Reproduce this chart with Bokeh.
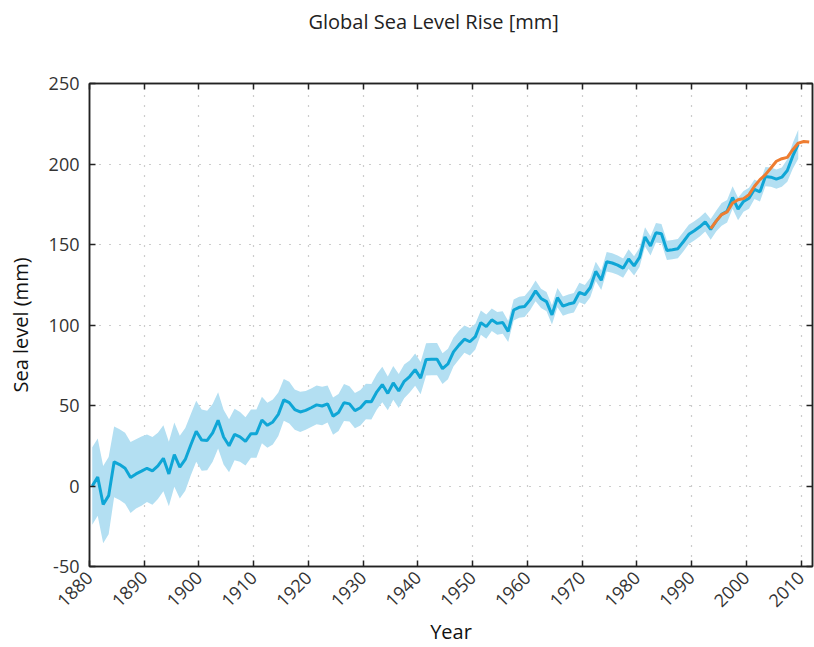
import math
from bokeh.plotting import figure
from bokeh.models import (LinearAxis, Range1d, FixedTicker, CustomJSTickFormatter,
                          ColumnDataSource)
from bokeh.embed import file_html
from bokeh.resources import INLINE

# ---------------- data ----------------
years = list(range(1880, 2010))
sea_level = [
    0.0, 5.5, -11.5, -6.0, 15.0, 13.3, 11.0, 5.3, 7.5, 9.2,            # 1880s
    11.0, 9.4, 12.5, 17.2, 7.5, 19.5, 11.7, 16.5, 25.5, 34.0,          # 1890s
    28.5, 28.3, 33.0, 40.8, 30.4, 25.0, 32.0, 30.5, 27.7, 32.5,        # 1900s
    32.5, 41.0, 37.7, 39.8, 44.5, 53.5, 51.8, 47.5, 46.0, 47.0,        # 1910s
    48.6, 50.4, 49.7, 51.0, 43.4, 45.6, 51.8, 51.0, 46.8, 48.6,        # 1920s
    52.5, 52.3, 58.5, 63.0, 57.5, 64.0, 59.0, 65.0, 68.0, 72.3,        # 1930s
    67.0, 78.6, 78.8, 78.8, 72.9, 75.8, 83.3, 87.5, 91.2, 89.6,        # 1940s
    92.8, 101.5, 99.0, 103.2, 101.0, 101.5, 96.0, 109.3, 111.0, 111.5, # 1950s
    115.6, 121.2, 116.5, 114.5, 106.3, 117.0, 111.7, 113.0, 113.8, 120.2,  # 1960s
    118.8, 123.3, 133.3, 127.8, 139.3, 138.5, 137.2, 135.3, 141.0, 136.7,  # 1970s
    142.0, 154.7, 149.1, 157.3, 156.7, 146.3, 146.8, 147.4, 151.7, 156.3,  # 1980s
    158.5, 161.0, 164.0, 159.4, 164.5, 168.7, 170.7, 179.2, 172.0, 176.8,  # 1990s
    178.7, 184.3, 182.7, 192.2, 191.8, 190.6, 191.8, 196.0, 205.0, 212.3,  # 2000s
]
uncertainty = [
    24, 24, 24, 24, 22, 22, 22, 22, 21.5, 21.5,
    21, 21, 20.5, 20.5, 20, 20, 19.5, 19.5, 19, 19,
    19, 18.5, 18, 17.5, 17, 16.5, 16, 15.5, 15, 15,
    15, 14.5, 14, 14, 13.5, 13, 13, 12.5, 12.5, 12,
    12, 12, 12, 11.5, 11.5, 11.5, 11.5, 11, 11, 11,
    11, 11, 11, 11, 10.5, 10.5, 10.5, 10.5, 10, 10,
    10, 10, 10, 10, 9.5, 9.5, 9, 9, 8.5, 8.5,
    8, 7.5, 7.5, 7, 7, 7, 6.5, 6.5, 6.5, 6.5,
    6.5, 6.5, 6, 6, 6, 6, 6, 6, 6, 6,
    6, 6, 6, 6, 6, 6, 6, 6, 6, 6,
    6, 6, 6, 6, 6, 6, 6, 6, 6, 6,
    6, 6, 6, 6.5, 6.5, 7, 7, 7, 7, 6.5,
    6.5, 6, 6, 6, 6, 6, 6, 7, 8, 9,
]
sat_years = list(range(1993, 2012))
sat_level = [159.8, 164.5, 168.6, 170.2, 175.8, 177.8, 178.5, 181.0, 186.2, 190.3,
             193.4, 197.5, 201.7, 203.3, 204.1, 208.9, 213.0, 214.0, 213.6]

x_ticks = [1880, 1890, 1900, 1910, 1920, 1930, 1940, 1950, 1960, 1970, 1980, 1990, 2000, 2010]
y_ticks = [-50, 0, 50, 100, 150, 200, 250]

title_text = "Global Sea Level Rise [mm]"
x_label = "Year"
y_label = "Sea level (mm)"

# ---------------- colours / fonts / layout ----------------
BAND = "#b3dff2"
BLUE = "#0fa6d6"
ORANGE = "#ee7d31"
FONT = "Open Sans"

W, H = 814, 647
LEFT, RIGHT, TOP, BOTTOM = 89, 812, 82, 567   # frame edges in page pixels
X0, X1 = 1880, 2012.1
Y0, Y1 = -50, 250

main = ColumnDataSource(dict(
    x=[y + 0.5 for y in years],
    y=sea_level,
    lo=[v - e for v, e in zip(sea_level, uncertainty)],
    hi=[v + e for v, e in zip(sea_level, uncertainty)],
))
sat = ColumnDataSource(dict(x=[y + 0.5 for y in sat_years], y=sat_level))

p = figure(width=W, height=H, output_backend="svg", toolbar_location=None,
           x_range=Range1d(X0, X1), y_range=Range1d(Y0, Y1),
           min_border_left=LEFT, min_border_right=W - RIGHT, min_border_top=TOP,
           min_border_bottom=H - BOTTOM, background_fill_color="white",
           border_fill_color="white")

p.title.text = title_text
p.title.align = "left"
p.title.offset = 219
p.title.vertical_align = "bottom"
p.title.standoff = 10
p.title.text_font = FONT
p.title.text_font_size = "20px"
p.title.text_font_style = "normal"
p.title.text_color = "#222222"

p.outline_line_color = "#222222"
p.outline_line_width = 1.5

xt = FixedTicker(ticks=x_ticks, minor_ticks=[])
yt = FixedTicker(ticks=y_ticks, minor_ticks=[])

for ax in p.xaxis:
    ax.ticker = xt
for ax in p.yaxis:
    ax.ticker = yt
    ax.major_label_overrides = {t: str(t) for t in y_ticks}

for ax in list(p.xaxis) + list(p.yaxis):
    ax.major_tick_in = 6
    ax.major_tick_out = 0
    ax.minor_tick_in = 0
    ax.minor_tick_out = 0
    ax.axis_line_color = "#222222"
    ax.axis_line_width = 1.5
    ax.major_tick_line_color = "#222222"
    ax.major_tick_line_width = 1.5
    ax.major_label_text_font = FONT
    ax.major_label_text_font_size = "18px"
    ax.major_label_text_color = "#333333"
    ax.axis_label_text_font = FONT
    ax.axis_label_text_font_size = "20px"
    ax.axis_label_text_font_style = "normal"
    ax.axis_label_text_color = "#111111"

p.xaxis.major_label_orientation = math.pi / 4
p.xaxis.major_label_standoff = 8
p.xaxis.axis_label = x_label
p.xaxis.axis_label_standoff = 2
p.yaxis.major_label_standoff = 10
p.yaxis.axis_label = y_label
p.yaxis.axis_label_standoff = 12

blank = CustomJSTickFormatter(code="return ''")
top = LinearAxis(ticker=xt, formatter=blank, major_tick_in=6, major_tick_out=0,
                 minor_tick_in=0, minor_tick_out=0, major_label_standoff=0,
                 axis_line_color="#222222", axis_line_width=1.5,
                 major_tick_line_color="#222222", major_tick_line_width=1.5)
# an undrawn axis whose outward tick length keeps the title away from the frame
spacer = LinearAxis(ticker=xt, formatter=blank, major_tick_in=0, major_tick_out=44,
                    minor_tick_in=0, minor_tick_out=0, major_label_standoff=0,
                    axis_line_color=None, major_tick_line_color=None)
right = LinearAxis(ticker=yt, formatter=blank, major_tick_in=6, major_tick_out=0,
                   minor_tick_in=0, minor_tick_out=0, major_label_standoff=0,
                   axis_line_color="#222222", axis_line_width=1.5,
                   major_tick_line_color="#222222", major_tick_line_width=1.5)
p.add_layout(top, "above")
p.add_layout(spacer, "above")
p.add_layout(right, "right")

p.xgrid.ticker = xt
p.ygrid.ticker = yt
p.grid.grid_line_color = "#999999"
p.grid.grid_line_width = 1.2
p.grid.grid_line_dash = "1 9"

p.varea(x="x", y1="lo", y2="hi", source=main, fill_color=BAND, fill_alpha=1.0)
p.line(x="x", y="y", source=main, line_color=BLUE, line_width=3)
p.line(x="x", y="y", source=sat, line_color=ORANGE, line_width=3)

open("out.html", "w").write(file_html(p, INLINE))
